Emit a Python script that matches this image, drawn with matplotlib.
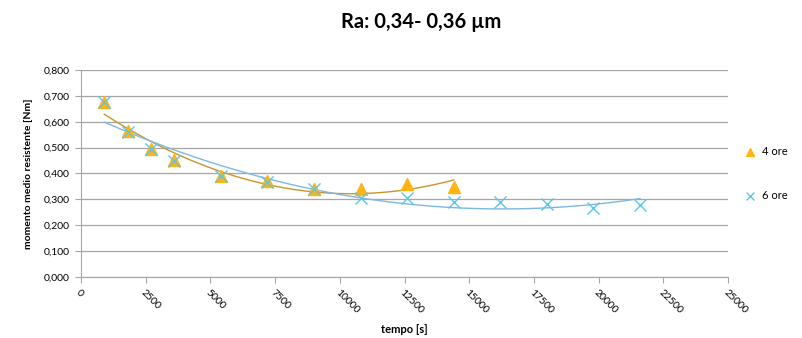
import numpy as np
import matplotlib
matplotlib.use("Agg")
import matplotlib.pyplot as plt

# -------------------------------
# Data
# -------------------------------
t_4ore = [900, 1800, 2700, 3600, 5400, 7200, 9000, 10800, 12600, 14400]
m_4ore = [0.677, 0.565, 0.494, 0.452, 0.390, 0.371, 0.342, 0.339, 0.359, 0.346]

t_6ore = [900, 1800, 2700, 3600, 5400, 7200, 9000, 10800, 12600, 14400,
          16200, 18000, 19800, 21600]
m_6ore = [0.677, 0.561, 0.494, 0.450, 0.390, 0.366, 0.340, 0.306, 0.304, 0.291,
          0.288, 0.284, 0.265, 0.278]

x_ticks = list(range(0, 25001, 2500))
y_ticks = [i / 10 for i in range(0, 9)]

plt.rcParams['font.family'] = ['Lato', 'DejaVu Sans']

fig = plt.figure(figsize=(8.03, 3.38), dpi=100)
ax = fig.add_axes([0.1009, 0.1805, 0.8057, 0.6124])

# polynomial (order 2) trendlines, like the spreadsheet
def trend(t, m, color):
    c = np.polyfit(t, m, 2)
    xs = np.linspace(min(t), max(t), 200)
    ax.plot(xs, np.polyval(c, xs), color=color, lw=1.0, zorder=2)

trend(t_4ore, m_4ore, "#C9962A")
trend(t_6ore, m_6ore, "#7DB8E3")

ax.scatter(t_4ore, m_4ore, marker="^", s=75, color="#FFB414", zorder=3, label="4 ore")
ax.scatter(t_6ore, m_6ore, marker="x", s=75, color="#5CC6EA", linewidths=1.0,
           zorder=4, label="6 ore")

ax.set_xlim(0, 25000)
ax.set_ylim(0, 0.8)
ax.set_xticks(x_ticks)
ax.set_xticklabels([str(v) for v in x_ticks], rotation=-45, ha="left",
                   rotation_mode="anchor", fontsize=7.5)
ax.set_yticks(y_ticks)
ax.set_yticklabels([f"{v:.3f}".replace(".", ",") for v in y_ticks], fontsize=7.5)
ax.grid(axis="y", color="#A6A6A6", lw=0.9)
ax.set_axisbelow(True)
for s in ["top", "right"]:
    ax.spines[s].set_visible(False)
for s in ["left", "bottom"]:
    ax.spines[s].set_color("#A6A6A6")
ax.tick_params(axis="both", color="#A6A6A6", length=4, direction="out", pad=4)

ax.set_xlabel("tempo [s]", fontsize=8, fontweight="bold", va="center")
ax.xaxis.set_label_coords(0.5, -0.256)
ax.set_ylabel("momento medio resistente [Nm]", fontsize=7.5, fontweight="bold", labelpad=8)
fig.suptitle("Ra: 0,34- 0,36 µm", fontsize=14.5, fontweight="bold", x=0.525, y=0.965)

ax.legend(loc="center left", bbox_to_anchor=(1.01, 0.5), frameon=False,
          fontsize=8, handletextpad=0.1, labelspacing=2.9, markerscale=0.65,
          borderaxespad=0)

fig.savefig("out.png", dpi=100)
